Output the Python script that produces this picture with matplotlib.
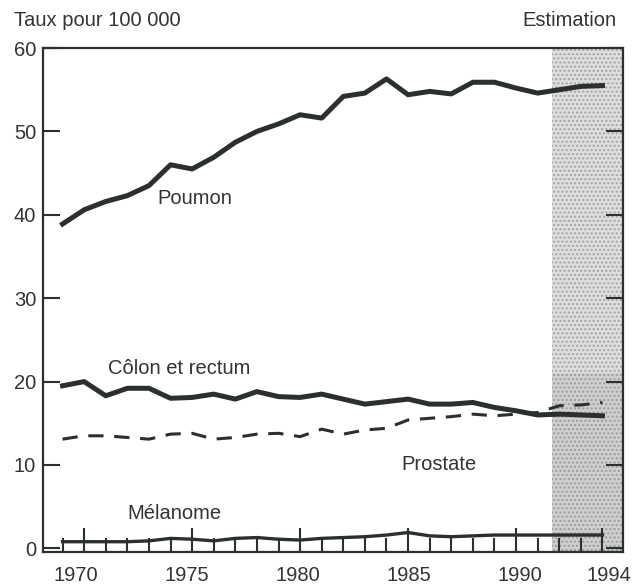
import matplotlib
matplotlib.use("Agg")
import matplotlib.pyplot as plt
from matplotlib.transforms import ScaledTranslation
import numpy as np

plt.rcParams['font.family'] = ['Liberation Sans', 'DejaVu Sans']

# data (rate per 100 000)
years = list(range(1969, 1995))
poumon = [38.9, 40.6, 41.6, 42.3, 43.5, 46.0, 45.5, 46.9, 48.7, 50.0, 50.9, 52.0, 51.6,
          54.2, 54.6, 56.3, 54.4, 54.8, 54.5, 55.9, 55.9, 55.2, 54.6, 55.0, 55.4, 55.5]
colon = [19.5, 20.0, 18.3, 19.2, 19.2, 18.0, 18.1, 18.5, 17.9, 18.8, 18.2, 18.1, 18.5,
         17.9, 17.3, 17.6, 17.9, 17.3, 17.3, 17.5, 16.9, 16.5, 16.0, 16.1, 16.0, 15.9]
prostate = [13.1, 13.5, 13.5, 13.3, 13.1, 13.7, 13.8, 13.1, 13.3, 13.7, 13.8, 13.4, 14.3,
            13.7, 14.2, 14.4, 15.4, 15.6, 15.8, 16.1, 15.9, 16.1, 16.3, 17.1, 17.2, 17.5]
melanome = [0.8, 0.8, 0.8, 0.8, 0.9, 1.2, 1.1, 0.9, 1.2, 1.3, 1.1, 1.0, 1.2,
            1.3, 1.4, 1.6, 1.9, 1.5, 1.4, 1.5, 1.6, 1.6, 1.6, 1.6, 1.6, 1.6]
tick_years = [1970, 1975, 1980, 1985, 1990, 1994]
est_start = 1991.65

ink = "#2b2f2f"
txt = "#333333"
fs = 14.5

fig = plt.figure(figsize=(6.34, 5.86), dpi=100)
ax = fig.add_axes([0.068, 0.0585, 0.9146, 0.8595])

# estimation zone (stippled grey, a bit darker near the bottom)
ax.axvspan(est_start, 1995.2, facecolor="#dedede", edgecolor="#a2a2a2",
           hatch="....", linewidth=0, zorder=0)
ax.fill_between([est_start, 1995.2], -1, 21, facecolor="#cfcfcf", edgecolor="#9a9a9a",
                hatch="....", linewidth=0, zorder=0)

ax.plot(years, poumon, color=ink, lw=3.6, solid_joinstyle="round", zorder=3)
ax.plot(years, colon, color=ink, lw=3.6, solid_joinstyle="round", zorder=3)
ax.plot(years, prostate, color=ink, lw=2.2, dashes=(5, 3.5), zorder=3)
ax.plot(years, melanome, color=ink, lw=2.4, zorder=3)

ax.text(1973.4, 41.9, "Poumon", fontsize=fs, color=txt, va="center")
ax.text(1971.1, 21.6, "Côlon et rectum", fontsize=fs, color=txt, va="center")
ax.text(1984.7, 10.0, "Prostate", fontsize=fs, color=txt, va="center")
ax.text(1972.0, 4.2, "Mélanome", fontsize=fs, color=txt, va="center")

ax.set_xlim(1968.1, 1994.95)
ax.set_ylim(-0.4, 60)

ax.set_yticks(range(0, 61, 10))
ax.set_xticks(tick_years)
ax.set_xticks(years, minor=True)
ax.tick_params(axis="y", direction="in", length=12, width=1.5, color=ink,
               labelsize=fs, labelcolor=txt, pad=5, right=True)
ax.tick_params(axis="x", which="major", direction="in", length=17, width=1.5,
               color=ink, labelsize=fs, labelcolor=txt, pad=10)
ax.tick_params(axis="x", which="minor", direction="in", length=10, width=1.5,
               color=ink)

# nudge year labels the way they sit in the original
shifts = [-8, -5, -2, 1, 4, 6]
for lab, dx in zip(ax.get_xticklabels(), shifts):
    lab.set_transform(lab.get_transform() + ScaledTranslation(dx / 100, 0, fig.dpi_scale_trans))

for s in ax.spines.values():
    s.set_color(ink)
    s.set_linewidth(1.6)

fig.text(14 / 634, 1 - 20 / 586, "Taux pour 100 000", fontsize=fs, color=txt, va="center")
fig.text(617 / 634, 1 - 20 / 586, "Estimation", fontsize=fs, color=txt, va="center", ha="right")

fig.savefig("out.png", dpi=100, facecolor="white")
